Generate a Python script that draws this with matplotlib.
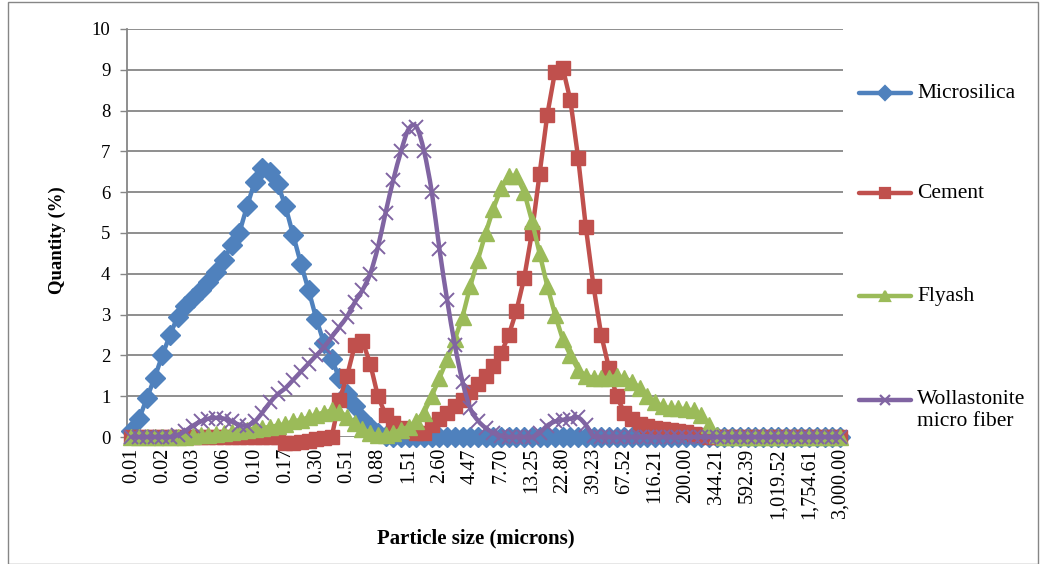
import numpy as np
import matplotlib
matplotlib.use("Agg")
import matplotlib.pyplot as plt
from matplotlib.path import Path
from matplotlib.patches import PathPatch, Rectangle
from matplotlib.lines import Line2D

plt.rcParams['font.family'] = ['Liberation Serif', 'DejaVu Serif']

# tick labels every 4th size class (microns)
size_labels = ['0.01', '0.02', '0.03', '0.06', '0.10', '0.17', '0.30', '0.51', '0.88',
               '1.51', '2.60', '4.47', '7.70', '13.25', '22.80', '39.23', '67.52',
               '116.21', '200.00', '344.21', '592.39', '1,019.52', '1,754.61', '3,000.00']

microsilica = [0.15, 0.45, 0.95, 1.45, 2.0, 2.5, 2.95, 3.2, 3.4, 3.6,
               3.8, 4.05, 4.35, 4.7, 5.0, 5.65, 6.25, 6.6, 6.5, 6.2,
               5.65, 4.95, 4.25, 3.6, 2.9, 2.3, 1.9, 1.45, 1.05, 0.75,
               0.45, 0.25, 0.1, 0.03] + [0.0] * 59

cement = [0.0] * 20 + [-0.15, -0.15, -0.12, -0.1, -0.05, -0.02, 0.0,
                       0.9, 1.5, 2.25, 2.35, 1.8, 1.0, 0.55, 0.35, 0.22, 0.15,
                       0.1, 0.1, 0.3, 0.45, 0.6, 0.75, 0.9, 1.1, 1.3, 1.5,
                       1.75, 2.05, 2.5, 3.1, 3.9, 5.0, 6.45, 7.9, 8.95, 9.05,
                       8.25, 6.85, 5.15, 3.7, 2.5, 1.7, 1.0, 0.6, 0.45, 0.33,
                       0.27, 0.22, 0.2, 0.18, 0.15, 0.12, 0.08, 0.04] + [0.0] * 18

flyash = [0.0] * 8 + [0.02, 0.04, 0.05, 0.07, 0.1, 0.12, 0.15, 0.18, 0.2, 0.22,
                      0.25, 0.28, 0.32, 0.38, 0.42, 0.48, 0.55, 0.6, 0.65, 0.62,
                      0.5, 0.35, 0.2, 0.1, 0.05, 0.05, 0.1, 0.18, 0.25, 0.4,
                      0.6, 1.0, 1.45, 1.9, 2.4, 2.95, 3.7, 4.35, 5.0, 5.6,
                      6.1, 6.4, 6.4, 6.0, 5.3, 4.5, 3.7, 3.0, 2.4, 2.0,
                      1.65, 1.5, 1.45, 1.45, 1.45, 1.5, 1.45, 1.35, 1.2, 1.0,
                      0.85, 0.75, 0.7, 0.7, 0.68, 0.65, 0.55, 0.3, 0.05] + [0.0] * 16

wollastonite = [0.0] * 6 + [0.05, 0.15, 0.28, 0.38, 0.45, 0.47, 0.45, 0.38, 0.3, 0.28,
                            0.38, 0.6, 0.85, 1.05, 1.2, 1.4, 1.6, 1.8, 2.0, 2.2,
                            2.45, 2.7, 2.95, 3.3, 3.6, 4.0, 4.65, 5.5, 6.3, 7.0,
                            7.55, 7.6, 7.0, 6.0, 4.6, 3.35, 2.25, 1.35, 0.7, 0.4,
                            0.22, 0.1, 0.03, 0.0, 0.0, 0.0, 0.0, 0.1, 0.28, 0.38,
                            0.42, 0.45, 0.48, 0.3, 0.02] + [0.0] * 32

names = ['Microsilica', 'Cement', 'Flyash', 'Wollastonite']
colors = ['#4F81BD', '#C0504D', '#9BBB59', '#8064A2']
GRID = '#868686'


def smooth_path(x, y):
    # excel style smoothed line: cubic bezier through every point
    pts = np.column_stack([np.asarray(x, float), np.asarray(y, float)])
    verts = [pts[0]]
    codes = [Path.MOVETO]
    n = len(pts)
    for i in range(n - 1):
        p0 = pts[max(i - 1, 0)]
        p1 = pts[i]
        p2 = pts[i + 1]
        p3 = pts[min(i + 2, n - 1)]
        verts += [p1 + (p2 - p0) / 6.0, p2 - (p3 - p1) / 6.0, p2]
        codes += [Path.CURVE4] * 3
    return Path(verts, codes)


W, H = 1040, 564
fig = plt.figure(figsize=(W / 100, H / 100), dpi=100)
ax = fig.add_axes([127 / W, 1 - 437 / H, (843 - 127) / W, (437 - 29) / H])

x = np.arange(len(microsilica))

ax.plot(x, microsilica, color=colors[0], lw=3.2, marker='D', ms=10, mec=colors[0],
        clip_on=False, zorder=3)
ax.plot(x, cement, color=colors[1], lw=3.2, marker='s', ms=10.5, mec=colors[1],
        clip_on=False, zorder=4)
ax.plot(x, flyash, color=colors[2], lw=3.2, marker='^', ms=11, mec=colors[2],
        clip_on=False, zorder=5)
ax.add_patch(PathPatch(smooth_path(x, wollastonite), fill=False, ec=colors[3], lw=3.2,
                       clip_on=False, zorder=6))
ax.plot(x, wollastonite, ls='none', marker='x', ms=10, mew=1.4, color=colors[3],
        clip_on=False, zorder=6)

ax.set_xlim(-0.58, 92.4)
ax.set_ylim(0, 10)
ax.set_yticks(range(0, 11))
ax.set_xticks(x[::4])
ax.set_xticklabels(size_labels, rotation=90, fontsize=14.5)
ax.tick_params(axis='x', length=0, pad=8)
ax.tick_params(axis='y', length=5, width=1, color=GRID, labelsize=13.5, pad=7)
ax.grid(axis='y', color=GRID, lw=1.3)
ax.set_axisbelow(True)
for s in ['top', 'right', 'bottom']:
    ax.spines[s].set_visible(False)
ax.spines['left'].set_color(GRID)
ax.spines['left'].set_linewidth(1.3)

fig.text(57 / W, 1 - 240 / H, 'Quantity (%)', rotation=90, fontsize=13.5, fontweight='bold',
         ha='center', va='center')
fig.text(476 / W, 1 - 538 / H, 'Particle size (microns)', fontsize=15, fontweight='bold',
         ha='center', va='center')

# legend drawn by hand so the two-line label sits like the original
leg_y = [93, 193, 296, 400]
markers = ['D', 's', '^', 'x']
for name, col, mk, yy in zip(names, colors, markers, leg_y):
    fy = 1 - yy / H
    fig.add_artist(Line2D([859 / W, 911 / W], [fy, fy], transform=fig.transFigure,
                          color=col, lw=3.2, solid_capstyle='round'))
    fig.add_artist(Line2D([885 / W], [fy], transform=fig.transFigure, color=col,
                          marker=mk, ms=7, mew=1.6, ls='none'))
    fig.text(917 / W, fy, name, fontsize=15.5, va='center', ha='left')
fig.text(917 / W, 1 - 421 / H, 'micro fiber', fontsize=15.5, va='center', ha='left')

fig.add_artist(Rectangle((8 / W, 0.5 / H), 1030 / W, 562 / H, transform=fig.transFigure,
                         fill=False, ec=GRID, lw=1))

fig.savefig('out.png', dpi=100)
